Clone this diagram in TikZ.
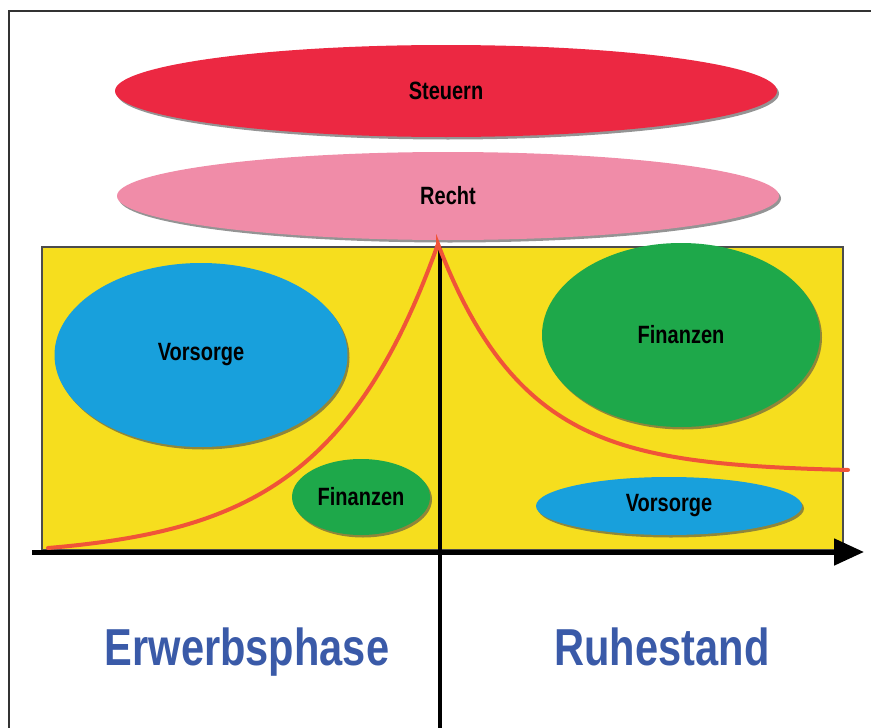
\documentclass[tikz,border=0pt]{standalone}
\usepackage{fontspec}
\setmainfont[FakeStretch=0.8]{Liberation Sans}
\usetikzlibrary{shapes.geometric,shadows,arrows.meta}
\definecolor{steuerrot}{RGB}{236,40,66}
\definecolor{rechtrosa}{RGB}{240,140,168}
\definecolor{gelb}{RGB}{246,222,30}
\definecolor{blau}{RGB}{24,160,220}
\definecolor{gruen}{RGB}{30,168,74}
\definecolor{kurve}{RGB}{240,84,56}
\definecolor{schrift}{RGB}{58,90,168}

\begin{document}
\begin{tikzpicture}[x=1pt, y=-1pt,
  blob/.style={ellipse, inner sep=0pt, font=\bfseries\fontsize{25}{28}\selectfont,
    drop shadow={shadow xshift=2pt, shadow yshift=-2.5pt, fill=black!70, opacity=0.6}},
  phase/.style={anchor=base, text=schrift, font=\bfseries\fontsize{52}{56}\selectfont}]
  \useasboundingbox (0,0) rectangle (871,728);
  \draw[black!80, line width=1.5pt] (9,740) -- (9,11) -- (880,11);

  \node[blob, fill=steuerrot, minimum width=662, minimum height=92] (steuern) at (446,91) {Steuern};
  \node[blob, fill=rechtrosa, minimum width=662, minimum height=88] (recht) at (448,196) {Recht};

  \draw[fill=gelb, draw=black!70, line width=2pt] (42,247) rectangle (843,550);
  \node[blob, fill=blau, minimum width=293, minimum height=184] (vorsorgeL) at (201,355) {Vorsorge};
  \node[blob, fill=gruen, minimum width=138, minimum height=76] (finanzenL) at (361,497) {Finanzen};
  \node[blob, fill=gruen, minimum width=278, minimum height=184] (finanzenR) at (681,335) {Finanzen};
  \node[blob, fill=blau, minimum width=266, minimum height=58] (vorsorgeR) at (669,506) {Vorsorge};

  % Achsen
  \coordinate (links) at (32,552);
  \coordinate (rechts) at (864,552);
  \coordinate (oben) at (440,247);
  \coordinate (unten) at (440,740);
  \draw[-{Triangle[length=30pt,width=26pt]}, line width=5pt] (links) -- (rechts);
  \draw[line width=4pt] (oben) -- (unten);

  \draw[kurve, line width=4pt, line cap=round]
    plot[domain=48:438, samples=80] (\x, {548-304*(exp(3.5*(\x-48)/390)-1)/(exp(3.5)-1)})
    -- plot[domain=438:848, samples=80] (\x, {472-228*exp(-(\x-438)/87)});

  \node[phase] (erwerb) at (247,665) {Erwerbsphase};
  \node[phase] (ruhe) at (662,665) {Ruhestand};
\end{tikzpicture}
\end{document}
